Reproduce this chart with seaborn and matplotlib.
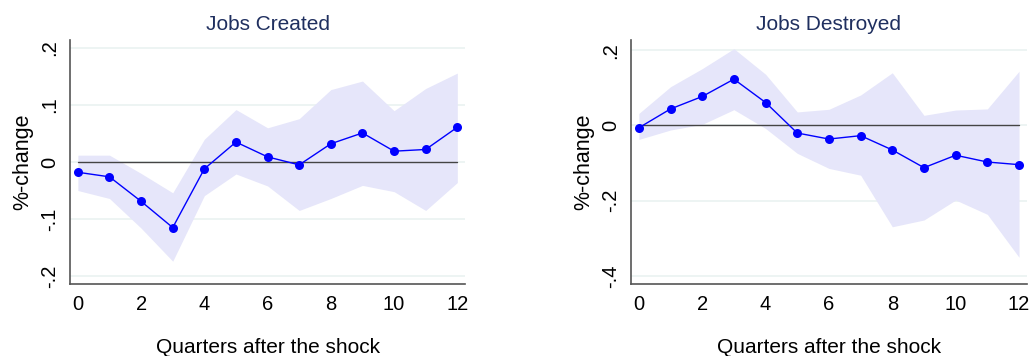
import matplotlib
matplotlib.use("Agg")
import matplotlib.pyplot as plt
import numpy as np
import pandas as pd
import seaborn as sns

quarters = list(range(13))

created = [-0.018, -0.026, -0.069, -0.115, -0.012, 0.035, 0.009, -0.005, 0.032, 0.051, 0.019, 0.022, 0.061]
created_hi = [0.012, 0.012, -0.020, -0.054, 0.040, 0.092, 0.060, 0.076, 0.127, 0.142, 0.090, 0.129, 0.156]
created_lo = [-0.050, -0.064, -0.116, -0.174, -0.059, -0.021, -0.042, -0.085, -0.064, -0.041, -0.052, -0.085, -0.036]

destroyed = [-0.006, 0.044, 0.077, 0.123, 0.061, -0.020, -0.036, -0.027, -0.065, -0.112, -0.079, -0.097, -0.104]
destroyed_hi = [0.032, 0.103, 0.151, 0.204, 0.136, 0.036, 0.043, 0.081, 0.140, 0.027, 0.041, 0.044, 0.144]
destroyed_lo = [-0.037, -0.012, 0.003, 0.042, -0.008, -0.074, -0.114, -0.132, -0.269, -0.251, -0.198, -0.236, -0.350]

titles = ["Jobs Created", "Jobs Destroyed"]
ytick_vals = [[-0.2, -0.1, 0.0, 0.1, 0.2], [-0.4, -0.2, 0.0, 0.2]]
ytick_labels = [["-.2", "-.1", "0", ".1", ".2"], ["-.4", "-.2", "0", ".2"]]
ylims = [(-0.214, 0.214), (-0.421, 0.227)]
xlabel = "Quarters after the shock"
ylabel = "%-change"

sns.set_theme(style="white")
plt.rcParams['font.family'] = ['Liberation Sans', 'DejaVu Sans']

fig = plt.figure(figsize=(10.32, 3.56), dpi=100)
ax1 = fig.add_axes([0.0678, 0.2022, 0.383, 0.6854])
ax2 = fig.add_axes([0.6114, 0.2022, 0.3837, 0.6854])

series = [(created, created_lo, created_hi), (destroyed, destroyed_lo, destroyed_hi)]

for i, ax in enumerate([ax1, ax2]):
    est, lo, hi = series[i]
    df = pd.DataFrame({"q": quarters, "est": est, "lo": lo, "hi": hi})
    for yv in ytick_vals[i]:
        ax.axhline(yv, color="#eaf2f1", lw=1.2, zorder=0)
    ax.fill_between(df["q"], df["lo"], df["hi"], color="#e6e6fa", lw=0, zorder=1)
    ax.plot([0, 12], [0, 0], color="#444444", lw=1.0, zorder=2)
    sns.lineplot(data=df, x="q", y="est", ax=ax, color="#0000ff", lw=1.0,
                 marker="o", markersize=6.5, markeredgewidth=0, zorder=3)
    ax.set_xlim(-0.25, 12.25)
    ax.set_ylim(*ylims[i])
    ax.set_xticks(quarters)
    ax.set_xticklabels([str(q) if q % 2 == 0 else "" for q in quarters])
    ax.set_yticks(ytick_vals[i])
    ax.set_yticklabels(ytick_labels[i], rotation=90, va="center")
    for s in ["top", "right"]:
        ax.spines[s].set_visible(False)
    for s in ["left", "bottom"]:
        ax.spines[s].set_color("#555555")
        ax.spines[s].set_linewidth(1.2)
    ax.tick_params(axis="both", which="major", direction="out", length=5,
                   width=1.0, color="#555555", labelsize=14.5, labelcolor="black", pad=3)
    ax.set_title(titles[i], color="#1f2f5f", fontsize=15, pad=7)
    ax.set_xlabel(xlabel, fontsize=15, labelpad=17, color="black")
    ax.set_ylabel(ylabel, fontsize=15.5, labelpad=5, color="black")
    ax.grid(False)

fig.savefig("out.png", dpi=100)
